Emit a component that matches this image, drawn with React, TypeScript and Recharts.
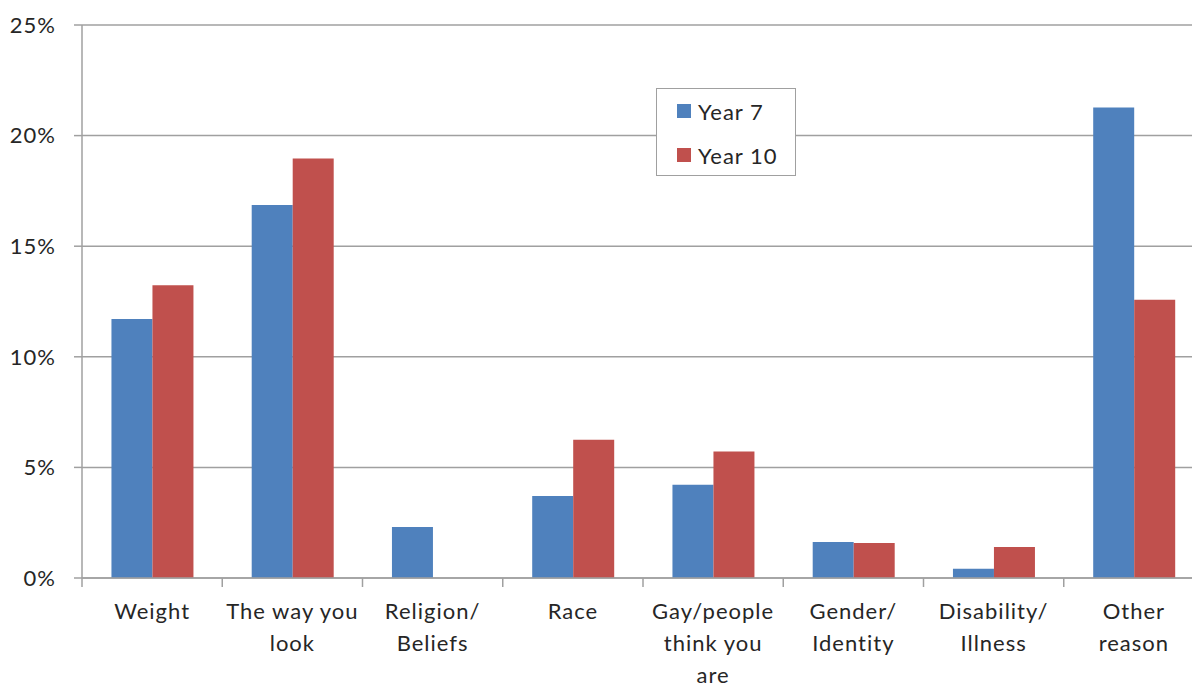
import { BarChart, Bar, XAxis, YAxis, CartesianGrid, Legend } from 'recharts';

// Reasons given, per school year (percent of pupils)
const categories = [
  'Weight',
  'The way you\nlook',
  'Religion/\nBeliefs',
  'Race',
  'Gay/people\nthink you\nare',
  'Gender/\nIdentity',
  'Disability/\nIllness',
  'Other\nreason',
];
const year7 = [11.71, 16.86, 2.31, 3.71, 4.22, 1.63, 0.42, 21.27];
const year10 = [13.23, 18.96, 0, 6.25, 5.72, 1.58, 1.4, 12.58];
const yTicks = [0, 5, 10, 15, 20, 25];

const BLUE = '#4F81BD';
const RED = '#C0504D';
const GRID = '#A0A0A0';
const TEXT = '#262626';
const FONT = 'Lato, "Open Sans", sans-serif';
const FONT_SIZE = 22;
const SPACING = 1;

const data = categories.map((name, i) => ({
  name,
  year7: year7[i],
  year10: year10[i],
}));

const CHART_W = 1220;
const CHART_H = 687;
const MARGIN = { top: 25, right: 16, bottom: 0, left: 0 };
const Y_AXIS_W = 82;
const X_AXIS_H = 109;
const BAND = (CHART_W - MARGIN.left - MARGIN.right - Y_AXIS_W) / categories.length;

// Category label split over lines, with a tick mark on the left boundary of each band
const CategoryTick = (props: any) => {
  const { x, y, payload } = props;
  const lines = String(payload.value).split('\n');
  const left = x - BAND / 2;
  return (
    <g>
      <line x1={left} y1={y} x2={left} y2={y + 9} stroke={GRID} strokeWidth={1.5} />
      {payload.index === categories.length - 1 && (
        <line x1={left + BAND} y1={y} x2={left + BAND} y2={y + 9} stroke={GRID} strokeWidth={1.5} />
      )}
      <text
        x={x}
        y={y + 41}
        textAnchor="middle"
        fill={TEXT}
        fontSize={FONT_SIZE}
        fontFamily={FONT}
        letterSpacing={SPACING}
      >
        {lines.map((line, i) => (
          <tspan key={i} x={x} dy={i === 0 ? 0 : 32}>
            {line}
          </tspan>
        ))}
      </text>
    </g>
  );
};

const LegendBox = () => (
  <div
    style={{
      width: 140,
      height: 88,
      border: `1px solid ${GRID}`,
      background: '#fff',
      boxSizing: 'border-box',
      fontFamily: FONT,
      fontSize: FONT_SIZE,
      letterSpacing: SPACING,
      color: TEXT,
    }}
  >
    {[
      { label: 'Year 7', color: BLUE },
      { label: 'Year 10', color: RED },
    ].map((item) => (
      <div
        key={item.label}
        style={{ display: 'flex', alignItems: 'center', height: 44, paddingLeft: 20 }}
      >
        <span
          style={{ width: 14, height: 14, background: item.color, marginRight: 7, display: 'inline-block' }}
        />
        <span>{item.label}</span>
      </div>
    ))}
  </div>
);

export default function App() {
  return (
    <div
      style={{
        position: 'absolute',
        left: 0,
        top: 0,
        width: 1192,
        height: 687,
        overflow: 'hidden',
        background: '#fff',
      }}
    >
      <BarChart
        width={CHART_W}
        height={CHART_H}
        data={data}
        margin={MARGIN}
        barCategoryGap="21%"
        barGap={0}
      >
        <CartesianGrid vertical={false} stroke={GRID} strokeWidth={1.5} />
        <XAxis
          dataKey="name"
          height={X_AXIS_H}
          axisLine={{ stroke: GRID, strokeWidth: 1.5 }}
          tickLine={false}
          tickSize={0}
          tickMargin={0}
          interval={0}
          tick={<CategoryTick />}
        />
        <YAxis
          width={Y_AXIS_W}
          domain={[0, 25]}
          ticks={yTicks}
          tickFormatter={(v: number) => `${v}%`}
          axisLine={{ stroke: GRID, strokeWidth: 1.5 }}
          tickLine={{ stroke: GRID, strokeWidth: 1.5 }}
          tickSize={8}
          tickMargin={18}
          tick={{ fill: TEXT, fontSize: FONT_SIZE, fontFamily: FONT, letterSpacing: SPACING }}
        />
        <Legend
          layout="vertical"
          align="center"
          verticalAlign="middle"
          content={<LegendBox />}
          wrapperStyle={{ position: 'absolute', left: 656, top: 88, width: 140, height: 88 }}
        />
        <Bar dataKey="year7" name="Year 7" fill={BLUE} isAnimationActive={false} />
        <Bar dataKey="year10" name="Year 10" fill={RED} isAnimationActive={false} />
      </BarChart>
    </div>
  );
}
